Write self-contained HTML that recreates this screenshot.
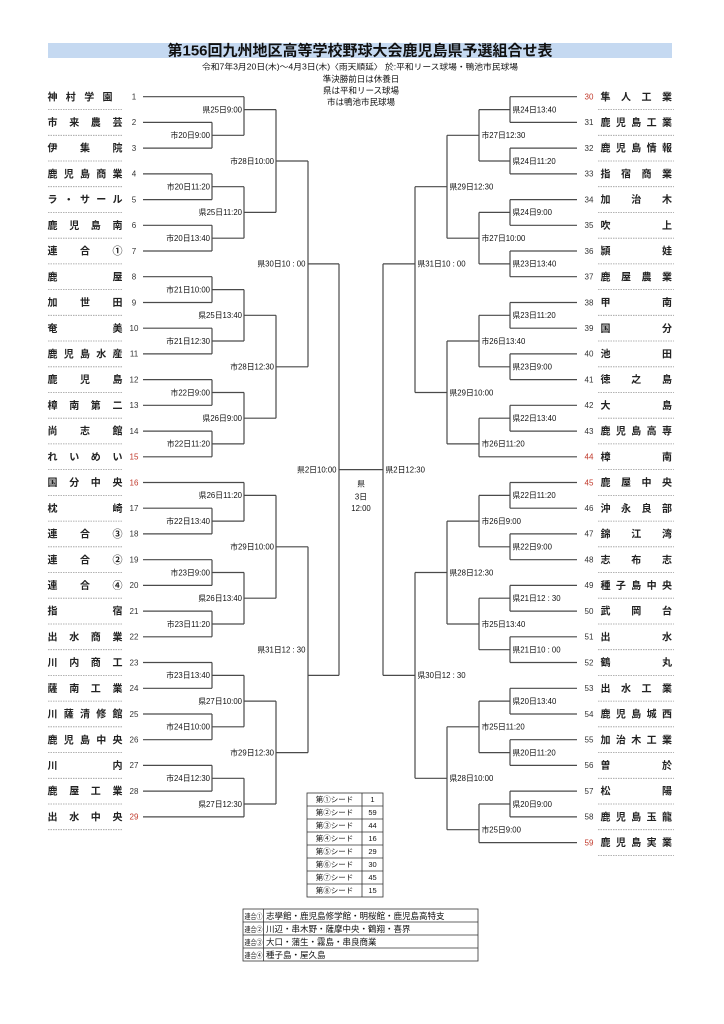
<!DOCTYPE html>
<html><head><meta charset="utf-8"><style>
html,body{margin:0;padding:0;background:#fff}
svg{display:block}
text{font-family:"Liberation Sans","Noto Sans CJK JP",sans-serif}
.nm{font-size:10px;font-weight:bold;fill:#222}
.no{font-size:8px;fill:#333;text-anchor:middle}
.red{fill:#c0392b}
.l{font-size:7.8px;fill:#111}
.e{text-anchor:end}
.m{text-anchor:middle}
.hd{font-size:8.5px;fill:#111;text-anchor:middle}
.tb{font-size:7.5px;fill:#111}
</style></head><body>
<svg width="724" height="1024" viewBox="0 0 724 1024" xmlns="http://www.w3.org/2000/svg">
<rect x="0" y="0" width="724" height="1024" fill="#fff"/>
<!-- title -->
<rect x="48" y="43" width="624" height="15" fill="#c5d9f1"/>
<text x="360" y="55.6" class="m" style="font-size:15px;font-weight:bold;fill:#111">第156回九州地区高等学校野球大会鹿児島県予選組合せ表</text>
<text x="360" y="69.5" class="hd" style="font-size:8px" textLength="316" lengthAdjust="spacingAndGlyphs">令和7年3月20日(木)～4月3日(木)〈雨天順延〉 於:平和リース球場・鴨池市民球場</text>
<text x="361" y="82" class="hd">準決勝前日は休養日</text>
<text x="361" y="93.5" class="hd">県は平和リース球場</text>
<text x="361" y="105" class="hd">市は鴨池市民球場</text>

<!-- dotted underlines -->
<path fill="none" stroke="#9a9a9a" stroke-width="0.8" stroke-dasharray="1.5 1" d="
M48 109.6H123M48 135.3H123M48 161H123M48 186.7H123M48 212.4H123M48 238.2H123M48 263.9H123M48 289.6H123M48 315.3H123M48 341H123M48 366.8H123M48 392.5H123M48 418.2H123M48 443.9H123M48 469.6H123M48 495.4H123M48 521.1H123M48 546.8H123M48 572.5H123M48 598.2H123M48 624H123M48 649.7H123M48 675.4H123M48 701.1H123M48 726.8H123M48 752.6H123M48 778.3H123M48 804H123M48 829.7H123
M598 109.6H674M598 135.3H674M598 161H674M598 186.7H674M598 212.4H674M598 238.2H674M598 263.9H674M598 289.6H674M598 315.3H674M598 341H674M598 366.8H674M598 392.5H674M598 418.2H674M598 443.9H674M598 469.6H674M598 495.4H674M598 521.1H674M598 546.8H674M598 572.5H674M598 598.2H674M598 624H674M598 649.7H674M598 675.4H674M598 701.1H674M598 726.8H674M598 752.6H674M598 778.3H674M598 804H674M598 829.7H674M598 855.5H674"/>

<!-- bracket lines -->
<path fill="none" stroke="#4a4a4a" stroke-width="1.2" d="
M143 96.7H244M143 122.4H212M143 148.1H212M143 173.9H212M143 199.6H212M143 225.3H212M143 251H212M143 276.7H212M143 302.5H212M143 328.2H212M143 353.9H212M143 379.6H212M143 405.3H212M143 431.1H212M143 456.8H212M143 482.5H244M143 508.2H212M143 533.9H212M143 559.7H212M143 585.4H212M143 611.1H212M143 636.8H212M143 662.5H212M143 688.3H212M143 714H212M143 739.7H212M143 765.4H212M143 791.1H212M143 816.9H244
M212 122.4V148.1M212 135.3H244
M212 173.9V199.6M212 186.7H244
M212 225.3V251M212 238.2H244
M212 276.7V302.5M212 289.6H244
M212 328.2V353.9M212 341H244
M212 379.6V405.3M212 392.5H244
M212 431.1V456.8M212 443.9H244
M212 508.2V533.9M212 521.1H244
M212 559.7V585.4M212 572.5H244
M212 611.1V636.8M212 624H244
M212 662.5V688.3M212 675.4H244
M212 714V739.7M212 726.8H244
M212 765.4V791.1M212 778.3H244
M244 96.7V135.3M244 109.6H276
M244 186.7V238.2M244 212.4H276
M244 289.6V341M244 315.3H276
M244 392.5V443.9M244 418.2H276
M244 482.5V521.1M244 495.4H276
M244 572.5V624M244 598.2H276
M244 675.4V726.8M244 701.1H276
M244 778.3V816.9M244 804H276
M276 109.6V212.4M276 161H308
M276 315.3V418.2M276 366.8H308
M276 495.4V598.2M276 546.8H308
M276 701.1V804M276 752.6H308
M308 161V366.8M308 263.9H339
M308 546.8V752.6M308 675.4H339
M339 263.9V675.4M339 469.6H383
M510 96.7H577M510 122.4H577M510 148.1H577M510 173.9H577M510 199.6H577M510 225.3H577M510 251H577M510 276.7H577M510 302.5H577M510 328.2H577M510 353.9H577M510 379.6H577M510 405.3H577M510 431.1H577M479 456.8H577M510 482.5H577M510 508.2H577M510 533.9H577M510 559.7H577M510 585.4H577M510 611.1H577M510 636.8H577M510 662.5H577M510 688.3H577M510 714H577M510 739.7H577M510 765.4H577M510 791.1H577M510 816.9H577M479 842.6H577
M510 96.7V122.4M479 109.6H510
M510 148.1V173.9M479 161H510
M510 199.6V225.3M479 212.4H510
M510 251V276.7M479 263.9H510
M510 302.5V328.2M479 315.3H510
M510 353.9V379.6M479 366.8H510
M510 405.3V431.1M479 418.2H510
M510 482.5V508.2M479 495.4H510
M510 533.9V559.7M479 546.8H510
M510 585.4V611.1M479 598.2H510
M510 636.8V662.5M479 649.7H510
M510 688.3V714M479 701.1H510
M510 739.7V765.4M479 752.6H510
M510 791.1V816.9M479 804H510
M479 109.6V161M447 135.3H479
M479 212.4V263.9M447 238.2H479
M479 315.3V366.8M447 341H479
M479 418.2V456.8M447 443.9H479
M479 495.4V546.8M447 521.1H479
M479 598.2V649.7M447 624H479
M479 701.1V752.6M447 726.8H479
M479 804V842.6M447 829.7H479
M447 135.3V238.2M415 186.7H447
M447 341V443.9M415 392.5H447
M447 521.1V624M415 572.5H447
M447 726.8V829.7M415 778.3H447
M415 186.7V392.5M383 263.9H415
M415 572.5V778.3M383 675.4H415
M383 263.9V675.4"/>

<!-- left team names -->
<text class="nm" x="47.5 65.8 84.2 102.5" y="100.3">神村学園</text>
<text class="nm" x="47.5 69.2 90.8 112.5" y="126">市来農芸</text>
<text class="nm" x="47.5 80 112.5" y="151.7">伊集院</text>
<text class="nm" x="47.5 63.8 80 96.2 112.5" y="177.5">鹿児島商業</text>
<text class="nm" x="47.5 63.8 80 96.2 112.5" y="203.2">ラ・サール</text>
<text class="nm" x="47.5 69.2 90.8 112.5" y="228.9">鹿児島南</text>
<text class="nm" x="47.5 80 112.5" y="254.6">連合①</text>
<text class="nm" x="47.5 112.5" y="280.3">鹿屋</text>
<text class="nm" x="47.5 80 112.5" y="306.1">加世田</text>
<text class="nm" x="47.5 112.5" y="331.8">奄美</text>
<text class="nm" x="47.5 63.8 80 96.2 112.5" y="357.5">鹿児島水産</text>
<text class="nm" x="47.5 80 112.5" y="383.2">鹿児島</text>
<text class="nm" x="47.5 69.2 90.8 112.5" y="408.9">樟南第二</text>
<text class="nm" x="47.5 80 112.5" y="434.7">尚志館</text>
<text class="nm" x="47.5 69.2 90.8 112.5" y="460.4">れいめい</text>
<text class="nm" x="47.5 69.2 90.8 112.5" y="486.1">国分中央</text>
<text class="nm" x="47.5 112.5" y="511.8">枕崎</text>
<text class="nm" x="47.5 80 112.5" y="537.5">連合③</text>
<text class="nm" x="47.5 80 112.5" y="563.3">連合②</text>
<text class="nm" x="47.5 80 112.5" y="589">連合④</text>
<text class="nm" x="47.5 112.5" y="614.7">指宿</text>
<text class="nm" x="47.5 69.2 90.8 112.5" y="640.4">出水商業</text>
<text class="nm" x="47.5 69.2 90.8 112.5" y="666.1">川内商工</text>
<text class="nm" x="47.5 69.2 90.8 112.5" y="691.9">薩南工業</text>
<text class="nm" x="47.5 63.8 80 96.2 112.5" y="717.6">川薩清修館</text>
<text class="nm" x="47.5 63.8 80 96.2 112.5" y="743.3">鹿児島中央</text>
<text class="nm" x="47.5 112.5" y="769">川内</text>
<text class="nm" x="47.5 69.2 90.8 112.5" y="794.7">鹿屋工業</text>
<text class="nm" x="47.5 69.2 90.8 112.5" y="820.5">出水中央</text>

<!-- left numbers -->
<text class="no" x="134" y="99.5">1</text>
<text class="no" x="134" y="125.2">2</text>
<text class="no" x="134" y="150.9">3</text>
<text class="no" x="134" y="176.7">4</text>
<text class="no" x="134" y="202.4">5</text>
<text class="no" x="134" y="228.1">6</text>
<text class="no" x="134" y="253.8">7</text>
<text class="no" x="134" y="279.5">8</text>
<text class="no" x="134" y="305.3">9</text>
<text class="no" x="134" y="331">10</text>
<text class="no" x="134" y="356.7">11</text>
<text class="no" x="134" y="382.4">12</text>
<text class="no" x="134" y="408.1">13</text>
<text class="no" x="134" y="433.9">14</text>
<text class="no red" x="134" y="459.6">15</text>
<text class="no red" x="134" y="485.3">16</text>
<text class="no" x="134" y="511">17</text>
<text class="no" x="134" y="536.7">18</text>
<text class="no" x="134" y="562.5">19</text>
<text class="no" x="134" y="588.2">20</text>
<text class="no" x="134" y="613.9">21</text>
<text class="no" x="134" y="639.6">22</text>
<text class="no" x="134" y="665.3">23</text>
<text class="no" x="134" y="691.1">24</text>
<text class="no" x="134" y="716.8">25</text>
<text class="no" x="134" y="742.5">26</text>
<text class="no" x="134" y="768.2">27</text>
<text class="no" x="134" y="793.9">28</text>
<text class="no red" x="134" y="819.7">29</text>

<!-- right team names -->
<text class="nm" x="600.5 621 641.5 662" y="100.3">隼人工業</text>
<text class="nm" x="600.5 615.9 631.3 646.6 662" y="126">鹿児島工業</text>
<text class="nm" x="600.5 615.9 631.3 646.6 662" y="151.7">鹿児島情報</text>
<text class="nm" x="600.5 621 641.5 662" y="177.5">指宿商業</text>
<text class="nm" x="600.5 631.3 662" y="203.2">加治木</text>
<text class="nm" x="600.5 662" y="228.9">吹上</text>
<text class="nm" x="600.5 662" y="254.6">頴娃</text>
<text class="nm" x="600.5 621 641.5 662" y="280.3">鹿屋農業</text>
<text class="nm" x="600.5 662" y="306.1">甲南</text>
<text class="nm" x="600.5 662" y="331.8">国分</text>
<text class="nm" x="600.5 662" y="357.5">池田</text>
<text class="nm" x="600.5 631.3 662" y="383.2">徳之島</text>
<text class="nm" x="600.5 662" y="408.9">大島</text>
<text class="nm" x="600.5 615.9 631.3 646.6 662" y="434.7">鹿児島高専</text>
<text class="nm" x="600.5 662" y="460.4">樟南</text>
<text class="nm" x="600.5 621 641.5 662" y="486.1">鹿屋中央</text>
<text class="nm" x="600.5 621 641.5 662" y="511.8">沖永良部</text>
<text class="nm" x="600.5 631.3 662" y="537.5">錦江湾</text>
<text class="nm" x="600.5 631.3 662" y="563.3">志布志</text>
<text class="nm" x="600.5 615.9 631.3 646.6 662" y="589">種子島中央</text>
<text class="nm" x="600.5 631.3 662" y="614.7">武岡台</text>
<text class="nm" x="600.5 662" y="640.4">出水</text>
<text class="nm" x="600.5 662" y="666.1">鶴丸</text>
<text class="nm" x="600.5 621 641.5 662" y="691.9">出水工業</text>
<text class="nm" x="600.5 615.9 631.3 646.6 662" y="717.6">鹿児島城西</text>
<text class="nm" x="600.5 615.9 631.3 646.6 662" y="743.3">加治木工業</text>
<text class="nm" x="600.5 662" y="769">曽於</text>
<text class="nm" x="600.5 662" y="794.7">松陽</text>
<text class="nm" x="600.5 615.9 631.3 646.6 662" y="820.5">鹿児島玉龍</text>
<text class="nm" x="600.5 615.9 631.3 646.6 662" y="846.2">鹿児島実業</text>

<!-- right numbers -->
<text class="no red" x="589" y="99.5">30</text>
<text class="no" x="589" y="125.2">31</text>
<text class="no" x="589" y="150.9">32</text>
<text class="no" x="589" y="176.7">33</text>
<text class="no" x="589" y="202.4">34</text>
<text class="no" x="589" y="228.1">35</text>
<text class="no" x="589" y="253.8">36</text>
<text class="no" x="589" y="279.5">37</text>
<text class="no" x="589" y="305.3">38</text>
<text class="no" x="589" y="331">39</text>
<text class="no" x="589" y="356.7">40</text>
<text class="no" x="589" y="382.4">41</text>
<text class="no" x="589" y="408.1">42</text>
<text class="no" x="589" y="433.9">43</text>
<text class="no red" x="589" y="459.6">44</text>
<text class="no red" x="589" y="485.3">45</text>
<text class="no" x="589" y="511">46</text>
<text class="no" x="589" y="536.7">47</text>
<text class="no" x="589" y="562.5">48</text>
<text class="no" x="589" y="588.2">49</text>
<text class="no" x="589" y="613.9">50</text>
<text class="no" x="589" y="639.6">51</text>
<text class="no" x="589" y="665.3">52</text>
<text class="no" x="589" y="691.1">53</text>
<text class="no" x="589" y="716.8">54</text>
<text class="no" x="589" y="742.5">55</text>
<text class="no" x="589" y="768.2">56</text>
<text class="no" x="589" y="793.9">57</text>
<text class="no" x="589" y="819.7">58</text>
<text class="no red" x="589" y="845.4">59</text>

<!-- left labels -->
<text class="l e" x="210" y="138.1">市20日9:00</text>
<text class="l e" x="210" y="189.5">市20日11:20</text>
<text class="l e" x="210" y="241">市20日13:40</text>
<text class="l e" x="210" y="292.4">市21日10:00</text>
<text class="l e" x="210" y="343.8">市21日12:30</text>
<text class="l e" x="210" y="395.3">市22日9:00</text>
<text class="l e" x="210" y="446.7">市22日11:20</text>
<text class="l e" x="210" y="523.9">市22日13:40</text>
<text class="l e" x="210" y="575.3">市23日9:00</text>
<text class="l e" x="210" y="626.8">市23日11:20</text>
<text class="l e" x="210" y="678.2">市23日13:40</text>
<text class="l e" x="210" y="729.6">市24日10:00</text>
<text class="l e" x="210" y="781.1">市24日12:30</text>
<text class="l e" x="242" y="112.4">県25日9:00</text>
<text class="l e" x="242" y="215.2">県25日11:20</text>
<text class="l e" x="242" y="318.1">県25日13:40</text>
<text class="l e" x="242" y="421">県26日9:00</text>
<text class="l e" x="242" y="498.2">県26日11:20</text>
<text class="l e" x="242" y="601">県26日13:40</text>
<text class="l e" x="242" y="703.9">県27日10:00</text>
<text class="l e" x="242" y="806.8">県27日12:30</text>
<text class="l e" x="274" y="163.8">市28日10:00</text>
<text class="l e" x="274" y="369.6">市28日12:30</text>
<text class="l e" x="274" y="549.6">市29日10:00</text>
<text class="l e" x="274" y="755.4">市29日12:30</text>
<text class="l e" x="305.5" y="266.7">県30日10 : 00</text>
<text class="l e" x="305.5" y="652.5">県31日12 : 30</text>
<text class="l e" x="336.5" y="472.4">県2日10:00</text>

<!-- right labels -->
<text class="l" x="512.5" y="112.4">県24日13:40</text>
<text class="l" x="512.5" y="163.8">県24日11:20</text>
<text class="l" x="512.5" y="215.2">県24日9:00</text>
<text class="l" x="512.5" y="266.7">県23日13:40</text>
<text class="l" x="512.5" y="318.1">県23日11:20</text>
<text class="l" x="512.5" y="369.6">県23日9:00</text>
<text class="l" x="512.5" y="421">県22日13:40</text>
<text class="l" x="512.5" y="498.2">県22日11:20</text>
<text class="l" x="512.5" y="549.6">県22日9:00</text>
<text class="l" x="512.5" y="601">県21日12 : 30</text>
<text class="l" x="512.5" y="652.5">県21日10 : 00</text>
<text class="l" x="512.5" y="703.9">県20日13:40</text>
<text class="l" x="512.5" y="755.4">県20日11:20</text>
<text class="l" x="512.5" y="806.8">県20日9:00</text>
<text class="l" x="481.5" y="138.1">市27日12:30</text>
<text class="l" x="481.5" y="241">市27日10:00</text>
<text class="l" x="481.5" y="343.8">市26日13:40</text>
<text class="l" x="481.5" y="446.7">市26日11:20</text>
<text class="l" x="481.5" y="523.9">市26日9:00</text>
<text class="l" x="481.5" y="626.8">市25日13:40</text>
<text class="l" x="481.5" y="729.6">市25日11:20</text>
<text class="l" x="481.5" y="832.5">市25日9:00</text>
<text class="l" x="449.5" y="189.5">県29日12:30</text>
<text class="l" x="449.5" y="395.3">県29日10:00</text>
<text class="l" x="449.5" y="575.3">県28日12:30</text>
<text class="l" x="449.5" y="781.1">県28日10:00</text>
<text class="l" x="417.5" y="266.7">県31日10 : 00</text>
<text class="l" x="417.5" y="678.2">県30日12 : 30</text>
<text class="l" x="385.5" y="472.4">県2日12:30</text>

<!-- final -->
<text class="l m" x="361" y="486.3">県</text>
<text class="l m" x="361" y="499.7">3日</text>
<text class="l m" x="361" y="510.8">12:00</text>

<!-- seed table -->
<g fill="none" stroke="#333" stroke-width="0.8">
<rect x="307" y="793" width="76" height="104"/>
<path d="M362 793V897M307 806H383M307 819H383M307 832H383M307 845H383M307 858H383M307 871H383M307 884H383"/>
</g>
<text class="tb m" x="334.5" y="802.2">第①シード</text><text class="tb m" x="372.5" y="802.2">1</text>
<text class="tb m" x="334.5" y="815.2">第②シード</text><text class="tb m" x="372.5" y="815.2">59</text>
<text class="tb m" x="334.5" y="828.2">第③シード</text><text class="tb m" x="372.5" y="828.2">44</text>
<text class="tb m" x="334.5" y="841.2">第④シード</text><text class="tb m" x="372.5" y="841.2">16</text>
<text class="tb m" x="334.5" y="854.2">第⑤シード</text><text class="tb m" x="372.5" y="854.2">29</text>
<text class="tb m" x="334.5" y="867.2">第⑥シード</text><text class="tb m" x="372.5" y="867.2">30</text>
<text class="tb m" x="334.5" y="880.2">第⑦シード</text><text class="tb m" x="372.5" y="880.2">45</text>
<text class="tb m" x="334.5" y="893.2">第⑧シード</text><text class="tb m" x="372.5" y="893.2">15</text>

<!-- union table -->
<g fill="none" stroke="#333" stroke-width="0.8">
<rect x="243" y="909" width="235" height="52"/>
<path d="M263.5 909V961M243 922H478M243 935H478M243 948H478"/>
</g>
<text class="tb" x="244.5" y="918.8" style="font-size:7.5px" textLength="18" lengthAdjust="spacingAndGlyphs">連合①</text>
<text class="tb" x="244.5" y="931.8" style="font-size:7.5px" textLength="18" lengthAdjust="spacingAndGlyphs">連合②</text>
<text class="tb" x="244.5" y="944.8" style="font-size:7.5px" textLength="18" lengthAdjust="spacingAndGlyphs">連合③</text>
<text class="tb" x="244.5" y="957.8" style="font-size:7.5px" textLength="18" lengthAdjust="spacingAndGlyphs">連合④</text>
<text class="tb" x="266" y="918.8" style="font-size:8.5px">志學館・鹿児島修学館・明桜館・鹿児島高特支</text>
<text class="tb" x="266" y="931.8" style="font-size:8.5px">川辺・串木野・薩摩中央・鶴翔・喜界</text>
<text class="tb" x="266" y="944.8" style="font-size:8.5px">大口・蒲生・霧島・串良商業</text>
<text class="tb" x="266" y="957.8" style="font-size:8.5px">種子島・屋久島</text>
</svg>
</body></html>
